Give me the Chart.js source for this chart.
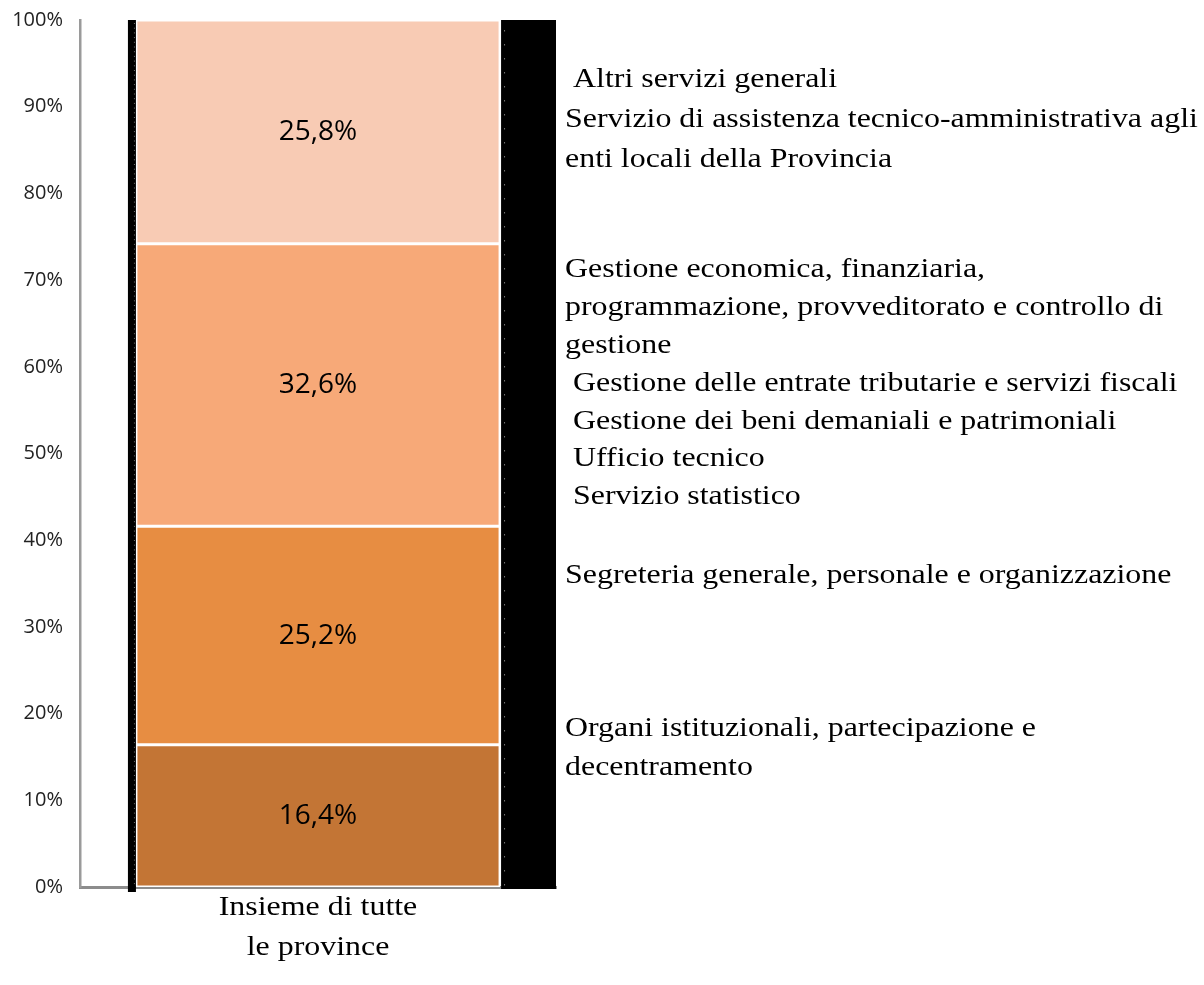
<!DOCTYPE html>
<html>
<head>
<meta charset="utf-8">
<script src="https://cdn.jsdelivr.net/npm/chart.js@4"></script>
<style>
  html, body { margin: 0; padding: 0; background: #fff; }
  #wrap { width: 1204px; height: 985px; }
</style>
</head>
<body>
<div id="wrap"><canvas id="shareChart" width="1204" height="985"></canvas></div>
<script>
// Data
const categories = [['Insieme di tutte', 'le province']];
const seriesNames = [
  'Organi istituzionali, partecipazione e decentramento',
  'Segreteria generale, personale e organizzazione',
  'Gestione economica e altri servizi',
  'Altri servizi generali'
];
const shares = [16.4, 25.2, 32.6, 25.8];
const seriesColors = ['#C37535', '#E78D42', '#F7A978', '#F8CBB4'];
const yTicks = [0, 10, 20, 30, 40, 50, 60, 70, 80, 90, 100];

// Text at the right of the bar, one block per series (bottom to top)
const legendLines = [
  ['Organi istituzionali, partecipazione e', 'decentramento'],
  ['Segreteria generale, personale e organizzazione'],
  ['Gestione economica, finanziaria,', 'programmazione, provveditorato e controllo di', 'gestione',
   ' Gestione delle entrate tributarie e servizi fiscali', ' Gestione dei beni demaniali e patrimoniali',
   ' Ufficio tecnico', ' Servizio statistico'],
  [' Altri servizi generali', 'Servizio di assistenza tecnico-amministrativa agli', 'enti locali della Provincia']
];
// where each block starts and its line step
const legendTop = [729, 576, 270, 80];
const legendStep = [38.5, 38.5, 37.8, 40];

const serif = '28px "Liberation Serif", "Times New Roman", serif';
const stretch = 1.14;   // the original picture is a bit wider than tall

function wideText(ctx, text, x, y, align) {
  ctx.save();
  ctx.translate(x, y);
  ctx.scale(stretch, 1);
  ctx.textAlign = align;
  ctx.fillText(text, 0, 0);
  ctx.restore();
}

// black strips around the bar, with faint dotted lines
const backdrop = {
  id: 'backdrop',
  beforeDatasetsDraw(chart) {
    const ctx = chart.ctx;
    const area = chart.chartArea;
    const bar = chart.getDatasetMeta(0).data[0];
    const left = bar.x - bar.width / 2;
    const right = bar.x + bar.width / 2;
    ctx.save();
    ctx.fillStyle = '#000';
    ctx.fillRect(left - 8, area.top, 8, area.bottom - area.top + 5);
    ctx.fillRect(right + 1, area.top, area.right - right - 1, area.bottom - area.top + 2);
    ctx.strokeStyle = '#777';
    ctx.lineWidth = 1;
    ctx.setLineDash([1, 3.7]);
    ctx.beginPath();
    ctx.moveTo(left - 1.5, area.top + 3);
    ctx.lineTo(left - 1.5, area.bottom);
    ctx.stroke();
    ctx.setLineDash([1.5, 12.5]);
    ctx.beginPath();
    ctx.moveTo(right + 4.5, area.top + 10);
    ctx.lineTo(right + 4.5, area.bottom);
    ctx.stroke();
    ctx.restore();
  }
};

// percentage labels, category label and series text on the right
const labels = {
  id: 'labels',
  afterDatasetsDraw(chart) {
    const ctx = chart.ctx;
    ctx.save();
    ctx.fillStyle = '#000';
    ctx.textAlign = 'center';
    ctx.textBaseline = 'middle';
    ctx.font = '28px "Open Sans", sans-serif';
    chart.data.datasets.forEach((ds, i) => {
      const el = chart.getDatasetMeta(i).data[0];
      const mid = (el.y + el.base) / 2;
      ctx.fillText(ds.data[0].toFixed(1).replace('.', ',') + '%', el.x, mid);
    });

    ctx.font = serif;
    const xs = chart.scales.x;
    chart.data.labels.forEach((lab, i) => {
      const cx = xs.getPixelForValue(i);
      lab.forEach((line, j) => wideText(ctx, line, cx, chart.chartArea.bottom + 21 + j * 40, 'center'));
    });

    legendLines.forEach((block, i) => {
      block.forEach((line, j) => {
        wideText(ctx, line, 565, legendTop[i] + j * legendStep[i], 'left');
      });
    });
    ctx.restore();
  }
};

new Chart(document.getElementById('shareChart'), {
  type: 'bar',
  data: {
    labels: categories,
    datasets: shares.map((v, i) => ({
      label: seriesNames[i],
      data: [v],
      backgroundColor: seriesColors[i],
      borderColor: '#fff',
      borderWidth: 1.5,
      borderSkipped: false,
      categoryPercentage: 1,
      barPercentage: 0.765
    }))
  },
  options: {
    responsive: false,
    animation: false,
    layout: { padding: { top: 20, right: 648, bottom: 0, left: 0 } },
    plugins: {
      legend: { display: false },
      tooltip: { enabled: false }
    },
    scales: {
      x: {
        stacked: true,
        grid: { display: false, drawTicks: false },
        border: { display: true, color: '#8c8c8c', width: 3 },
        ticks: { display: false },
        afterFit(scale) { scale.height = 98; }
      },
      y: {
        stacked: true,
        min: 0,
        max: 100,
        afterBuildTicks(scale) { scale.ticks = yTicks.map(v => ({ value: v })); },
        grid: { display: false, drawTicks: false },
        border: { display: true, color: '#9a9a9a', width: 2.5 },
        ticks: {
          color: '#222',
          padding: 17,
          font: { family: '"Open Sans", sans-serif', size: 20 },
          callback: v => v + '%'
        },
        afterFit(scale) {
          scale.width = 80;
          scale.paddingTop = 0;
          scale.paddingBottom = 0;
        }
      }
    }
  },
  plugins: [backdrop, labels]
});
</script>
</body>
</html>
